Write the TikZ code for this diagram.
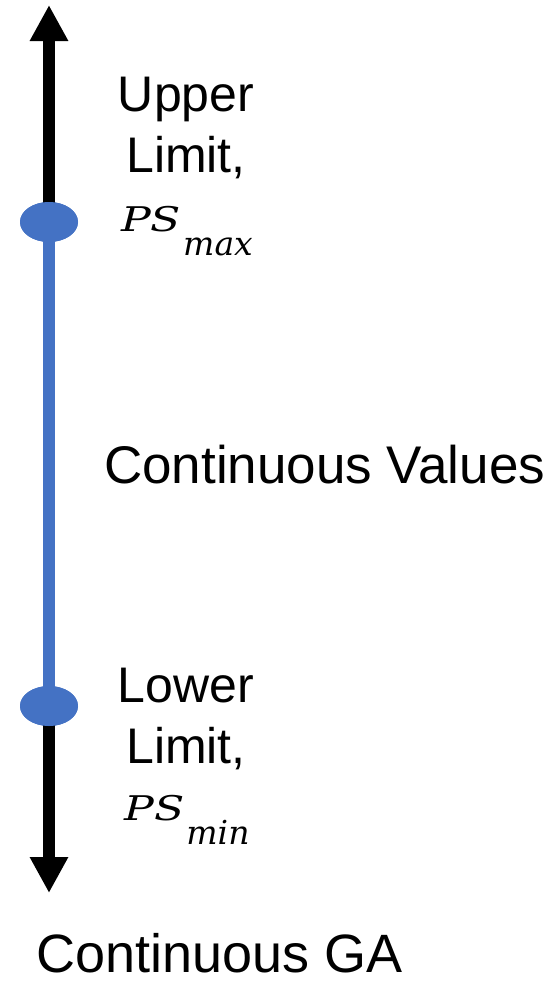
\documentclass[tikz,border=0pt]{standalone}
\usepackage{fontspec}
\setmainfont{Liberation Sans}
\newfontfamily\psfont{DejaVu Serif}
\usetikzlibrary{arrows.meta,shapes.geometric}
\definecolor{pblue}{HTML}{4472C4}
\newcommand{\psvar}[1]{{\psfont\itshape\fontsize{34}{34}\selectfont\scalebox{1.3}[1]{PS}\hspace{2pt}\raisebox{-24pt}{\fontsize{33}{33}\selectfont#1}}}
\tikzset{
  blackaxis/.style={draw=black,line width=12pt,-{Triangle[length=36pt,width=36pt]}},
  blueaxis/.style={draw=pblue,line width=12pt},
  limitdot/.style={ellipse,fill=pblue,minimum width=58pt,minimum height=40pt,inner sep=0pt},
  lbl/.style={font=\fontsize{50}{60}\selectfont,inner sep=0pt,anchor=base},
  mlbl/.style={inner sep=0pt,anchor=base},
  biglbl/.style={font=\fontsize{53}{63}\selectfont,inner sep=0pt,anchor=base west},
}
\begin{document}
\begin{tikzpicture}[x=1pt,y=-1pt]
\useasboundingbox (0,0) rectangle (559,983);
\coordinate (toptip) at (49,5);
\coordinate (bottip) at (49,893);
\node[limitdot] (up) at (49,222) {};
\node[limitdot] (lo) at (49,706) {};
\draw[blackaxis] (up.center) -- (toptip);
\draw[blackaxis] (lo.center) -- (bottip);
\draw[blueaxis] (up.center) -- (lo.center);
\node[limitdot] at (up) {};
\node[limitdot] at (lo) {};
\node[lbl] (u1) at (186,111) {Upper};
\node[lbl] (u2) at (186,172) {Limit,};
\node[mlbl] (u3) at (187,231) {\psvar{max}};
\node[lbl] (l1) at (186,702) {Lower};
\node[lbl] (l2) at (186,763) {Limit,};
\node[mlbl] (l3) at (187,820) {\psvar{min}};
\node[biglbl] (cv) at (104,483) {Continuous Values};
\node[biglbl,font=\fontsize{54}{64}\selectfont] (cg) at (36,972) {Continuous GA};
\end{tikzpicture}
\end{document}
